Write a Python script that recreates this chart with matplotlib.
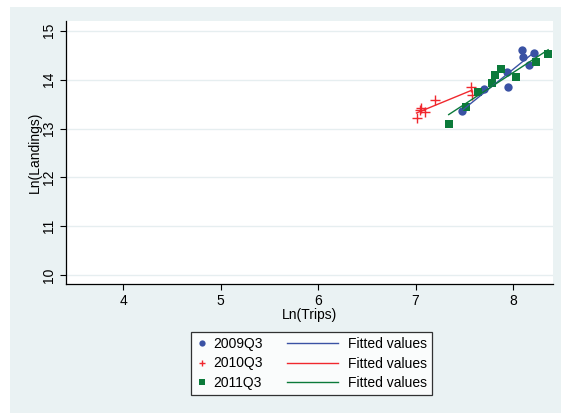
import numpy as np
import matplotlib
matplotlib.use("Agg")
import matplotlib.pyplot as plt
from matplotlib.patches import Rectangle
from matplotlib.legend_handler import HandlerLine2D

plt.rcParams['font.family'] = ['Liberation Sans', 'DejaVu Sans']

# log trips / log landings by quarter
trips_2009 = [7.48, 7.70, 7.94, 7.95, 8.09, 8.10, 8.16, 8.21]
land_2009 = [13.36, 13.80, 14.16, 13.86, 14.60, 14.46, 14.31, 14.54]

trips_2010 = [7.01, 7.05, 7.06, 7.10, 7.20, 7.57, 7.58]
land_2010 = [13.22, 13.37, 13.42, 13.33, 13.59, 13.85, 13.68]

trips_2011 = [7.34, 7.52, 7.64, 7.78, 7.81, 7.88, 8.03, 8.24, 8.36]
land_2011 = [13.10, 13.44, 13.75, 13.93, 14.09, 14.21, 14.05, 14.37, 14.53]

quarters = ["2009Q3", "2010Q3", "2011Q3"]
colors = ["#3a52a4", "#f0282e", "#0b7a3a"]
markers = ["o", "+", "s"]
msizes = [6, 6.5, 6]

groups = [(trips_2009, land_2009), (trips_2010, land_2010), (trips_2011, land_2011)]


class LongLine(HandlerLine2D):
    # stretch the line sample to the left and leave a gap before the text
    def create_artists(self, legend, orig_handle, xdescent, ydescent,
                       width, height, fontsize, trans):
        ext = 3.1 * fontsize
        gap = 0.35 * fontsize
        return super().create_artists(legend, orig_handle, xdescent + ext, ydescent,
                                      width + ext - gap, height, fontsize, trans)


fig = plt.figure(figsize=(5.61, 4.13), dpi=100)
fig.patches.append(Rectangle((10 / 561, 0), 1 - 10 / 561, 1 - 7 / 413,
                             transform=fig.transFigure, facecolor="#eaf2f3",
                             edgecolor="none", zorder=-10))
ax = fig.add_axes([66 / 561, 1 - 284 / 413, (553 - 66) / 561, (284 - 21) / 413])
ax.set_facecolor("white")

pts, fits = [], []
for (x, y), c, m, ms, q in zip(groups, colors, markers, msizes, quarters):
    x = np.array(x)
    y = np.array(y)
    p, = ax.plot(x, y, linestyle="none", marker=m, color=c, markersize=ms,
                 markeredgewidth=1.0 if m == "+" else 0, label=q, zorder=3)
    b, a = np.polyfit(x, y, 1)
    xs = np.array([x.min(), x.max()])
    f, = ax.plot(xs, a + b * xs, color=c, lw=1.0, label="Fitted values", zorder=4)
    pts.append(p)
    fits.append(f)

ax.set_xlim(3.415, 8.41)
ax.set_ylim(9.82, 15.2)
ax.set_xticks([4, 5, 6, 7, 8])
ax.set_yticks([10, 11, 12, 13, 14, 15])
ax.grid(axis="y", color="#e6eef0", lw=1.0)
ax.set_axisbelow(True)
for s in ["top", "right"]:
    ax.spines[s].set_visible(False)
for s in ["left", "bottom"]:
    ax.spines[s].set_linewidth(0.9)
ax.tick_params(direction="out", length=4, width=0.8, labelsize=10, pad=3)
for lab in ax.get_yticklabels():
    lab.set_rotation(90)
    lab.set_va("center")
ax.set_xlabel("Ln(Trips)", fontsize=10, labelpad=0)
ax.set_ylabel("Ln(Landings)", fontsize=10, labelpad=0)

handles = pts + fits
labels = quarters + ["Fitted values"] * 3
hmap = {f: LongLine() for f in fits}
leg = fig.legend(handles, labels, ncol=2, loc="center",
                 bbox_to_anchor=(311.5 / 561, 1 - 363.5 / 413),
                 fontsize=10, frameon=True, fancybox=False, edgecolor="black",
                 handlelength=0.9, handletextpad=0.4, columnspacing=4.85,
                 borderpad=0.35, labelspacing=0.42, numpoints=1, markerscale=0.75,
                 handler_map=hmap)
leg.get_frame().set_linewidth(0.9)
leg.get_frame().set_facecolor("white")

fig.savefig("out.png", dpi=100)
